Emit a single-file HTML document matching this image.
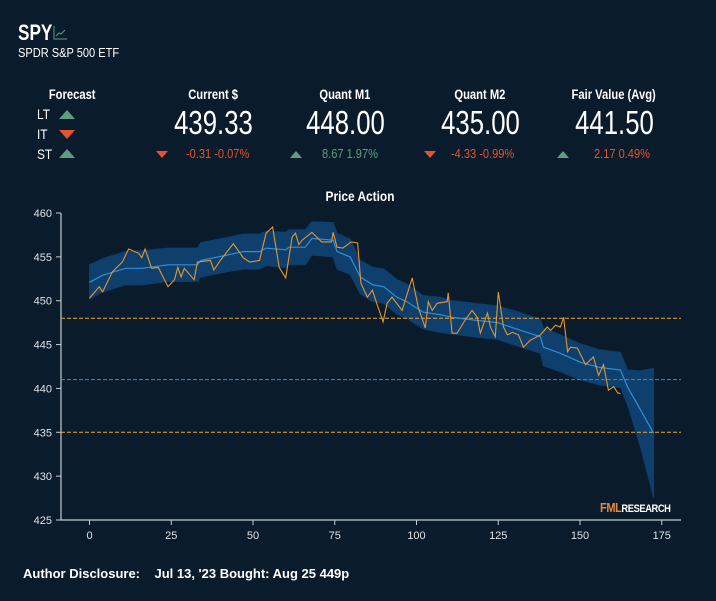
<!DOCTYPE html>
<html><head><meta charset="utf-8">
<style>
body{margin:0;width:716px;height:601px;background:#0a1b2c;overflow:hidden;font-family:"Liberation Sans",sans-serif;color:#fff;}
.abs{position:absolute;}
.n{display:inline-block;transform:scaleX(0.8);transform-origin:center;white-space:nowrap;}
.nb{display:inline-block;transform:scaleX(0.78);transform-origin:center;white-space:nowrap;}
.nl{display:inline-block;transform:scaleX(0.85);transform-origin:left;white-space:nowrap;}
.hd{font-weight:bold;font-size:14px;text-align:center;}
.big{font-size:33px;text-align:center;}
.chg{font-size:13px;}
.up{color:#5e9e80}.dn{color:#e5532e}
.tu{width:0;height:0;border-left:8px solid transparent;border-right:8px solid transparent;border-bottom:9px solid #5e9e80;}
.td{width:0;height:0;border-left:8px solid transparent;border-right:8px solid transparent;border-top:9px solid #e5532e;}
.su{width:0;height:0;border-left:6px solid transparent;border-right:6px solid transparent;border-bottom:7px solid #5e9e80;}
.sd{width:0;height:0;border-left:6px solid transparent;border-right:6px solid transparent;border-top:7px solid #e5532e;}
</style></head><body>
<div class="abs" style="left:18px;top:20px;font-size:22px;font-weight:bold"><span class="nl" style="transform:scaleX(0.78)">SPY</span></div>
<svg class="abs" style="left:53px;top:26px" width="14" height="14"><path d="M1 0V13H14" stroke="#5e9e80" fill="none"/><path d="M3 10L6 7L8 8L12 4" stroke="#5e9e80" fill="none"/></svg>
<div class="abs nl" style="left:18px;top:45px;font-size:13px">SPDR S&amp;P 500 ETF</div>

<div class="abs hd" style="left:22px;top:86px;width:100px"><span class="n">Forecast</span></div>
<div class="abs" style="left:37px;top:106px;font-size:14px"><span class="nl">LT</span></div>
<div class="abs tu" style="left:59px;top:110px"></div>
<div class="abs" style="left:37px;top:126px;font-size:14px"><span class="nl">IT</span></div>
<div class="abs td" style="left:59px;top:130px"></div>
<div class="abs" style="left:37px;top:146px;font-size:14px"><span class="nl">ST</span></div>
<div class="abs tu" style="left:59px;top:149px"></div>

<div class="abs hd" style="left:143px;top:86px;width:140px"><span class="n">Current $</span></div>
<div class="abs big" style="left:143px;top:104px;width:140px"><span class="nb">439.33</span></div>
<div class="abs sd" style="left:156px;top:151px"></div>
<div class="abs chg dn" style="left:186px;top:146px"><span class="nl">-0.31 -0.07%</span></div>

<div class="abs hd" style="left:275px;top:86px;width:140px"><span class="n">Quant M1</span></div>
<div class="abs big" style="left:275px;top:104px;width:140px"><span class="nb">448.00</span></div>
<div class="abs su" style="left:290px;top:151px"></div>
<div class="abs chg up" style="left:322px;top:146px"><span class="nl">8.67 1.97%</span></div>

<div class="abs hd" style="left:410px;top:86px;width:140px"><span class="n">Quant M2</span></div>
<div class="abs big" style="left:410px;top:104px;width:140px"><span class="nb">435.00</span></div>
<div class="abs sd" style="left:424px;top:151px"></div>
<div class="abs chg dn" style="left:451px;top:146px"><span class="nl">-4.33 -0.99%</span></div>

<div class="abs hd" style="left:544px;top:86px;width:140px"><span class="n">Fair Value (Avg)</span></div>
<div class="abs big" style="left:544px;top:104px;width:140px"><span class="nb">441.50</span></div>
<div class="abs su" style="left:557px;top:151px"></div>
<div class="abs chg dn" style="left:594px;top:146px"><span class="nl">2.17 0.49%</span></div>

<svg class="abs" style="left:0;top:180px" width="716" height="370" id="chart"></svg>
<div class="abs" style="left:600px;top:500px;font-size:13px;font-weight:bold;letter-spacing:-0.5px"><span class="nl"><span style="color:#e8873a">FML</span><span style="color:#fff;font-size:11px">RESEARCH</span></span></div>
<div class="abs" style="left:23px;top:566px;font-size:13px;font-weight:bold">Author Disclosure:&nbsp;&nbsp;&nbsp; Jul 13, '23 Bought: Aug 25 449p</div>

<script>
const priceX=[0,3,4,7,10,12,15,16,17,19,21,24,26,27,28,29,32,33,37,38,40,44,47,49,52,54,56,58,60,62,63,64,65,68,71,74,74.5,75.7,77.5,80,82,83,85,86.5,88,89.8,91,92.5,95.6,98.7,100.5,102.7,103.6,104.8,106.3,109.4,109.7,110.9,112.4,114.9,117,118.6,119.5,121.7,122.6,124.1,125,126.6,127.8,129.3,131.2,132.7,134.8,137.9,140,141,142.5,144,145,146.2,147.1,149.2,151.7,154.1,155.7,157.2,158.7,160.3,161.5,162.4];
const priceY=[450.3,451.6,451.0,453.3,454.4,455.9,455.4,454.9,455.9,453.7,453.8,451.6,452.4,453.8,452.7,453.7,452.4,454.4,454.6,453.5,454.6,456.5,454.9,454.4,454.6,457.7,458.4,453.8,452.6,457.3,457.7,456.4,456.9,457.8,456.7,456.7,457.8,456.1,456.0,456.7,456.6,452.0,450.4,451.2,449.5,447.6,449.7,450.4,448.9,452.6,449.3,446.9,449.9,448.9,449.7,449.9,450.9,446.3,446.3,447.8,448.9,448.1,446.3,448.6,447.0,445.9,451.0,447.0,446.1,446.4,446.1,444.7,445.5,446.1,447.0,446.6,447.2,447.0,448.1,444.2,444.7,444.6,442.7,443.6,441.5,442.7,439.8,440.2,439.5,439.4];
const modelX=[0,4,11,16,24,33,34,42,47,52,54,60,61,66,68,74.5,75.7,79.7,82.8,86.7,90,94,97,102,107.2,111,117.4,124.7,129.6,137.9,138.8,144,150,156,162.4,164.5,168.6,172.5];
const modelMid=[452.1,452.9,453.7,453.7,454.1,454.1,454.6,455.2,455.6,455.6,456.0,455.8,456.1,456.1,457.1,456.9,455.6,455.0,452.7,451.8,451.6,450.4,449.9,448.7,448.4,448.1,447.8,447.5,446.9,445.9,444.7,444.0,443.0,442.4,442.1,440.2,437.5,434.9];
const modelUpper=[454.1,454.8,455.6,455.7,456.0,456.0,456.6,457.2,457.6,457.6,457.9,457.8,458.1,458.1,459.0,458.9,457.7,457.0,454.6,453.8,453.6,452.4,451.9,450.6,450.4,450.0,449.7,449.4,448.9,447.9,446.9,446.1,445.1,444.4,444.1,442.1,442.0,442.3];
const modelLower=[450.2,451.0,451.8,451.8,452.2,452.2,452.7,453.3,453.6,453.6,454.0,453.8,454.1,454.1,455.2,455.0,453.6,453.0,450.8,449.9,449.7,448.5,448.0,446.8,446.4,446.2,445.9,445.6,445.0,444.0,442.6,441.9,441.0,440.4,440.1,438.2,433.2,427.6];
const yTicks=[425,430,435,440,445,450,455,460];
const xTicks=[0,25,50,75,100,125,150,175];
const refLevels=[448,441,435];
const refColors=['#f5a623','#2f8fd8','#f5a623'];

const svg=document.getElementById('chart');
const NS='http://www.w3.org/2000/svg';
const X=v=>89.5+v*3.27;
const Y=v=>33+(460-v)*(307/35);
function el(t,a,p){const e=document.createElementNS(NS,t);for(const k in a)e.setAttribute(k,a[k]);(p||svg).appendChild(e);return e;}
const title=el('text',{x:360,y:21,'text-anchor':'middle',fill:'#fff','font-size':14,'font-weight':'bold','font-family':'Liberation Sans, sans-serif',transform:'translate(360 0) scale(0.85 1) translate(-360 0)'});
title.textContent='Price Action';


const ax=el('path',{d:'M61 33V340H681',stroke:'#c8ccd0','stroke-width':1.2,fill:'none'});


yTicks.forEach(t=>{
 el('line',{x1:56,x2:61,y1:Y(t),y2:Y(t),stroke:'#c8ccd0'});
 const tx=el('text',{x:52,y:Y(t)+4,'text-anchor':'end',fill:'#dfe3e6','font-size':11,'font-family':'Liberation Sans, sans-serif'});
 tx.textContent=t;
 
 
});
xTicks.forEach(t=>{
 el('line',{x1:X(t),x2:X(t),y1:340,y2:345,stroke:'#c8ccd0'});
 const tx=el('text',{x:X(t),y:359,'text-anchor':'middle',fill:'#dfe3e6','font-size':11,'font-family':'Liberation Sans, sans-serif'});
 tx.textContent=t;
 
 
});
let d='';
modelX.forEach((x,i)=>{d+=(i?'L':'M')+X(x).toFixed(1)+' '+Y(modelUpper[i]).toFixed(1);});
for(let i=modelX.length-1;i>=0;i--)d+='L'+X(modelX[i]).toFixed(1)+' '+Y(modelLower[i]).toFixed(1);
const band=el('path',{d:d+'Z',fill:'#0f3f6c',stroke:'#0f3f6c','stroke-width':1});


refLevels.forEach((v,i)=>{
 const l=el('line',{x1:61,x2:681,y1:Y(v),y2:Y(v),stroke:refColors[i],'stroke-width':1,'stroke-dasharray':'4 2'});
 
 
});
const mid=el('polyline',{points:modelX.map((x,i)=>X(x).toFixed(1)+','+Y(modelMid[i]).toFixed(1)).join(' '),fill:'none',stroke:'#2f8fd8','stroke-width':1.2});


const pr=el('polyline',{points:priceX.map((x,i)=>X(x).toFixed(1)+','+Y(priceY[i]).toFixed(1)).join(' '),fill:'none',stroke:'#e8962a','stroke-width':1.1});


</script>
</body></html>
